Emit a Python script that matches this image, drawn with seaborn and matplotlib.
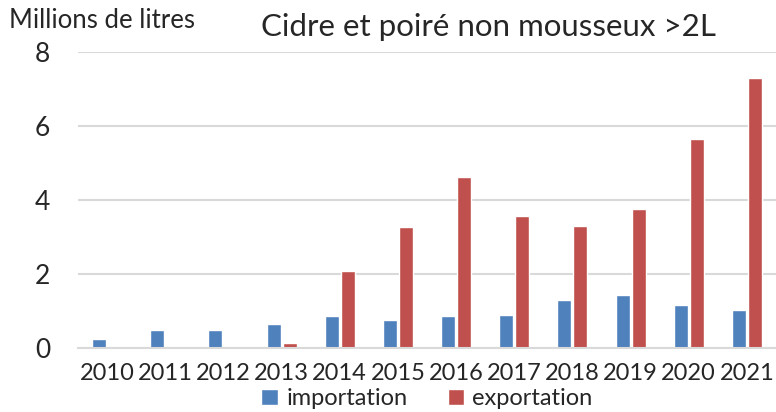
import pandas as pd
import matplotlib.pyplot as plt
import seaborn as sns

sns.set_style("white")
plt.rcParams['font.family'] = ['Lato', 'DejaVu Sans']

# Données (millions de litres)
years = ['2010', '2011', '2012', '2013', '2014', '2015',
         '2016', '2017', '2018', '2019', '2020', '2021']
importation = [0.25, 0.49, 0.50, 0.66, 0.87, 0.76, 0.86, 0.89, 1.30, 1.43, 1.16, 1.03]
exportation = [0.03, 0.0, 0.02, 0.14, 2.08, 3.27, 4.62, 3.57, 3.30, 3.76, 5.65, 7.30]

df = pd.DataFrame({
    'year': years * 2,
    'value': importation + exportation,
    'flux': ['importation'] * len(years) + ['exportation'] * len(years),
})

fig = plt.figure(figsize=(7.76, 4.12), dpi=100)
ax = fig.add_axes([0.1005, 0.155, 0.8995, 0.719])

sns.barplot(data=df, x='year', y='value', hue='flux', ax=ax,
            palette={'importation': '#4F81BD', 'exportation': '#C0504D'},
            width=0.55, gap=0.12, saturation=1)

ax.set_ylim(0, 8)
ax.set_xlim(-0.5, 11.5)
ax.set_yticks([0, 2, 4, 6, 8])
ax.yaxis.grid(True, color='#d9d9d9', linewidth=1.5)
ax.set_axisbelow(True)
for side in ['top', 'right', 'left']:
    ax.spines[side].set_visible(False)
ax.spines['bottom'].set_color('#d9d9d9')
ax.spines['bottom'].set_linewidth(1.5)
ax.tick_params(axis='y', length=0, labelsize=19, pad=20)
ax.tick_params(axis='x', length=0, labelsize=17, pad=11)
ax.set_xlabel('')
ax.set_ylabel('')

fig.text(0.012, 0.95, 'Millions de litres', fontsize=18.5, ha='left', va='center')
fig.text(0.629, 0.934, 'Cidre et poiré non mousseux >2L', fontsize=22.5,
         ha='center', va='center')

ax.legend(loc='upper center', bbox_to_anchor=(0.5, -0.135), ncol=2, frameon=False,
          fontsize=17, handlelength=0.7, handleheight=0.7, columnspacing=1.7,
          handletextpad=0.35, borderaxespad=0, borderpad=0)

fig.savefig('out.png', dpi=100)
